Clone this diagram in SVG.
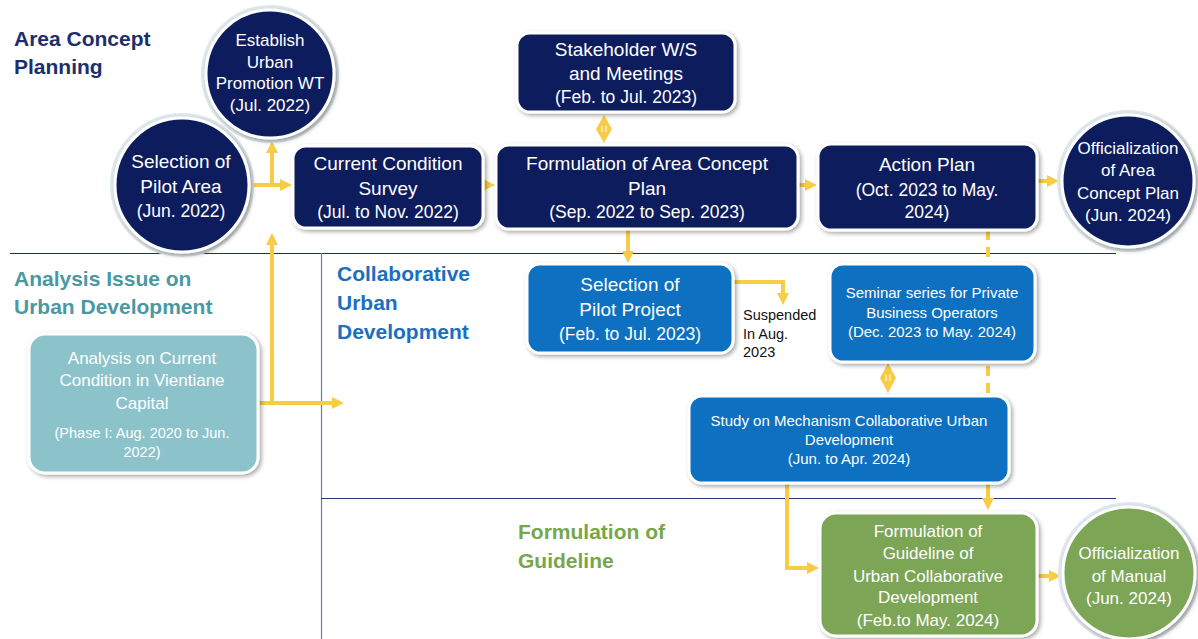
<svg xmlns="http://www.w3.org/2000/svg" width="1198" height="639" viewBox="0 0 1198 639">
<defs>
<filter id="sh" x="-20%" y="-20%" width="140%" height="140%"><feDropShadow dx="2" dy="2" stdDeviation="2" flood-color="#000" flood-opacity="0.35"/></filter>
<marker id="ah" viewBox="0 0 12 12" refX="5" refY="6" markerWidth="12" markerHeight="12" markerUnits="userSpaceOnUse" orient="auto"><path d="M0,0 L12,6 L0,12 z" fill="#f8cc46"/></marker>
<style>
text{font-family:"Liberation Sans",Arial,sans-serif;}
.t{fill:#fff;text-anchor:middle;}
.box{stroke:#fff;stroke-width:3;filter:url(#sh);}
.halo{fill:none;stroke:#dfe8ec;stroke-width:4;}
.navy{fill:#0c1f5d;}
.blue{fill:#0b6fc0;}
.green{fill:#7ba556;}
.teal{fill:#8cc3cb;}
.c{fill:none;stroke:#f8cc46;stroke-width:4;}
.ca{fill:none;stroke:#f8cc46;stroke-width:4;marker-end:url(#ah);}
.hd{font-size:21px;font-weight:bold;}
.f19{font-size:19px;}
.f17{font-size:17.5px;}
.f16{font-size:17px;}
.f15{font-size:15px;}
.f14{font-size:14.5px;}
</style>
</defs>
<rect width="1198" height="639" fill="#fff"/>

<g id="dividers">
<line x1="10" y1="253.5" x2="1116" y2="253.5" stroke="#1f2e66" stroke-width="1.2"/>
<line x1="321.5" y1="253" x2="321.5" y2="639" stroke="#6d7ca3" stroke-width="1.2"/>
<line x1="321" y1="498.5" x2="1116" y2="498.5" stroke="#2a3a70" stroke-width="1.2"/>
</g>

<g id="section-titles">
<text class="hd" x="14" y="46" fill="#1b2f6b">Area Concept</text>
<text class="hd" x="14" y="74" fill="#1b2f6b">Planning</text>
<text class="hd" x="14" y="286" fill="#4a98a2">Analysis Issue on</text>
<text class="hd" x="14" y="314" fill="#4a98a2">Urban Development</text>
<text class="hd" x="337" y="281" fill="#1a6fc0">Collaborative</text>
<text class="hd" x="337" y="310" fill="#1a6fc0">Urban</text>
<text class="hd" x="337" y="339" fill="#1a6fc0">Development</text>
<text class="hd" x="518" y="539" fill="#78a64a">Formulation of</text>
<text class="hd" x="518" y="568" fill="#78a64a">Guideline</text>
</g>

<g id="connectors">
<line class="ca" x1="250" y1="185" x2="285" y2="185"/>
<line class="ca" x1="272" y1="187" x2="272" y2="148"/>
<line class="ca" x1="272" y1="405" x2="272" y2="240"/>
<line class="ca" x1="258" y1="403" x2="337" y2="403"/>
<line class="ca" x1="484" y1="185" x2="488" y2="185"/>
<line class="ca" x1="799" y1="185" x2="810" y2="185"/>
<line class="ca" x1="1038" y1="181" x2="1052" y2="181"/>
<line class="ca" x1="628" y1="229" x2="628" y2="256"/>
<path class="ca" d="M733,282 H783 V298"/>
<line class="c" x1="988" y1="230" x2="988" y2="483" stroke-dasharray="10 7"/>
<line class="ca" x1="988" y1="483" x2="988" y2="503"/>
<path class="ca" d="M787,483 V568 H812"/>
<line class="ca" x1="1038" y1="576" x2="1054" y2="576"/>
<polygon points="604,115 612,129 604,143 596,129" fill="#f8cc46"/>
<line x1="602" y1="126" x2="602" y2="132" stroke="#fff" stroke-width="1"/>
<line x1="606" y1="126" x2="606" y2="132" stroke="#fff" stroke-width="1"/>
<polygon points="888,363 896,378 888,393 880,378" fill="#f8cc46"/>
<line x1="886" y1="375" x2="886" y2="381" stroke="#fff" stroke-width="1"/>
<line x1="890" y1="375" x2="890" y2="381" stroke="#fff" stroke-width="1"/>
</g>

<g id="establish-wt">
<circle class="halo" cx="270" cy="74" r="67"/>
<circle class="navy box" cx="270" cy="74" r="64"/>
<text class="t f16" x="270" y="46">Establish</text>
<text class="t f16" x="270" y="68">Urban</text>
<text class="t f16" x="270" y="89">Promotion WT</text>
<text class="t f16" x="270" y="111">(Jul. 2022)</text>
</g>

<g id="selection-pilot-area">
<circle class="halo" cx="182" cy="185" r="70"/>
<circle class="navy box" cx="182" cy="185" r="67"/>
<text class="t f19" x="181" y="168">Selection of</text>
<text class="t f19" x="181" y="193">Pilot Area</text>
<text class="t f17" x="181" y="217">(Jun. 2022)</text>
</g>

<g id="current-condition">
<rect class="navy box" x="293" y="146" width="190" height="82" rx="13"/>
<text class="t f19" x="388" y="170">Current Condition</text>
<text class="t f19" x="388" y="195">Survey</text>
<text class="t f17" x="388" y="218">(Jul. to Nov. 2022)</text>
</g>

<g id="stakeholder">
<rect class="navy box" x="517" y="33" width="218" height="79" rx="13"/>
<text class="t f19" x="626" y="56">Stakeholder W/S</text>
<text class="t f19" x="626" y="80">and Meetings</text>
<text class="t f17" x="626" y="103">(Feb. to Jul. 2023)</text>
</g>

<g id="formulation-acp">
<rect class="navy box" x="496" y="145" width="302" height="84" rx="13"/>
<text class="t f19" x="647" y="170">Formulation of Area Concept</text>
<text class="t f19" x="647" y="195">Plan</text>
<text class="t f17" x="647" y="218">(Sep. 2022 to Sep. 2023)</text>
</g>

<g id="action-plan">
<rect class="navy box" x="818" y="144" width="219" height="86" rx="13"/>
<text class="t f19" x="927" y="171">Action Plan</text>
<text class="t f17" x="927" y="196">(Oct. 2023 to May.</text>
<text class="t f17" x="927" y="218">2024)</text>
</g>

<g id="officialization-acp">
<circle class="halo" cx="1128" cy="181" r="69"/>
<circle class="navy box" cx="1128" cy="181" r="66"/>
<text class="t f16" x="1128" y="154">Officialization</text>
<text class="t f16" x="1128" y="176">of Area</text>
<text class="t f16" x="1128" y="199">Concept Plan</text>
<text class="t f16" x="1128" y="221">(Jun. 2024)</text>
</g>

<g id="analysis-current">
<rect class="teal box" x="29" y="334" width="229" height="139" rx="16"/>
<text class="t f16" x="142" y="364">Analysis on Current</text>
<text class="t f16" x="142" y="386">Condition in Vientiane</text>
<text class="t f16" x="142" y="409">Capital</text>
<text class="t f14" x="142" y="438">(Phase I: Aug. 2020 to Jun.</text>
<text class="t f14" x="142" y="457">2022)</text>
</g>

<g id="pilot-project">
<rect class="blue box" x="527" y="264" width="206" height="89" rx="13"/>
<text class="t f19" x="630" y="291">Selection of</text>
<text class="t f19" x="630" y="316">Pilot Project</text>
<text class="t f17" x="630" y="340">(Feb. to Jul. 2023)</text>
</g>

<g id="suspended-label">
<text class="f14" x="743" y="320" fill="#111">Suspended</text>
<text class="f14" x="743" y="339" fill="#111">In Aug.</text>
<text class="f14" x="743" y="357" fill="#111">2023</text>
</g>

<g id="seminar">
<rect class="blue box" x="830" y="264" width="205" height="98" rx="13"/>
<text class="t f15" x="932" y="298">Seminar series for Private</text>
<text class="t f15" x="932" y="318">Business Operators</text>
<text class="t f15" x="932" y="337">(Dec. 2023 to May. 2024)</text>
</g>

<g id="study-mechanism">
<rect class="blue box" x="689" y="396" width="320" height="87" rx="13"/>
<text class="t f15" x="849" y="426">Study on Mechanism Collaborative Urban</text>
<text class="t f15" x="849" y="445">Development</text>
<text class="t f15" x="849" y="464">(Jun. to Apr. 2024)</text>
</g>

<g id="formulation-guideline">
<rect class="green box" x="820" y="513" width="217" height="123" rx="16"/>
<text class="t f16" x="928" y="537">Formulation of</text>
<text class="t f16" x="928" y="559">Guideline of</text>
<text class="t f16" x="928" y="582">Urban Collaborative</text>
<text class="t f16" x="928" y="603">Development</text>
<text class="t f16" x="928" y="626">(Feb.to May. 2024)</text>
</g>

<g id="officialization-manual">
<circle class="halo" cx="1129" cy="573" r="69"/>
<circle class="green box" cx="1129" cy="573" r="66"/>
<text class="t f16" x="1129" y="559">Officialization</text>
<text class="t f16" x="1129" y="582">of Manual</text>
<text class="t f16" x="1129" y="604">(Jun. 2024)</text>
</g>
</svg>
